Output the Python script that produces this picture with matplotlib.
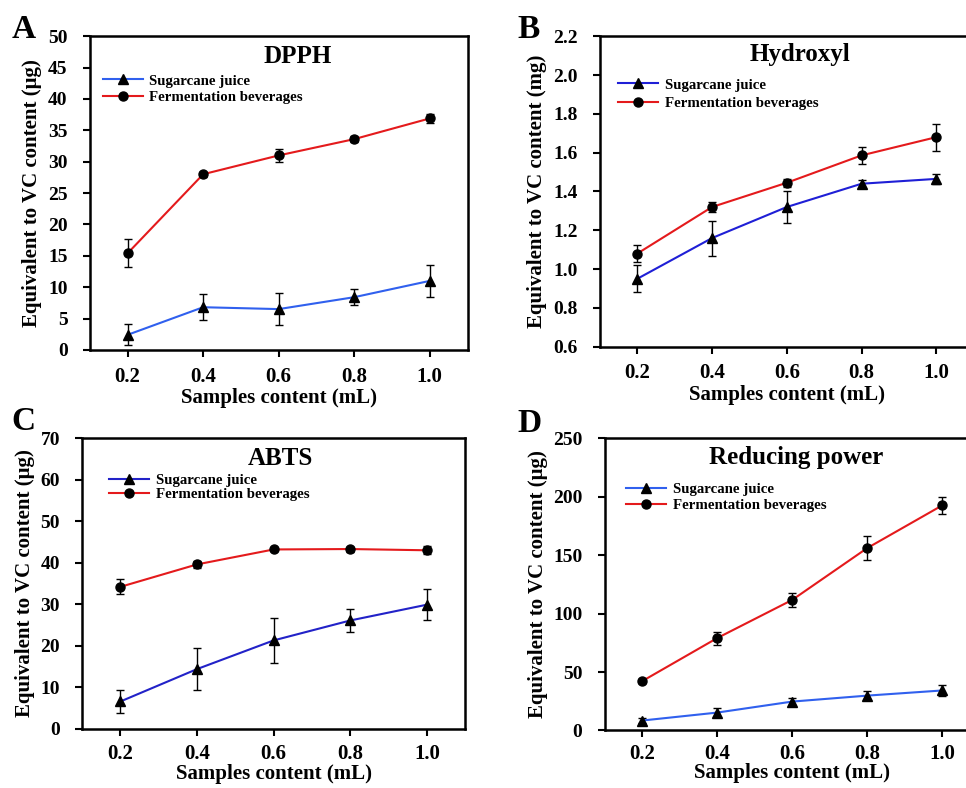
import matplotlib
matplotlib.use("Agg")
import matplotlib.pyplot as plt
from matplotlib.lines import Line2D

plt.rcParams['font.family'] = ['Liberation Serif', 'DejaVu Serif']
plt.rcParams['font.weight'] = 'bold'

x = [0.2, 0.4, 0.6, 0.8, 1.0]
xticklabels = ['0.2', '0.4', '0.6', '0.8', '1.0']

# DPPH
dpph_juice = [2.4, 6.8, 6.5, 8.4, 11.0]
dpph_juice_err = [1.7, 2.1, 2.6, 1.3, 2.5]
dpph_ferm = [15.4, 28.0, 31.0, 33.6, 36.9]
dpph_ferm_err = [2.2, 0.4, 1.1, 0.5, 0.7]

# Hydroxyl
hyd_juice = [0.95, 1.16, 1.32, 1.44, 1.465]
hyd_juice_err = [0.07, 0.09, 0.08, 0.02, 0.025]
hyd_ferm = [1.08, 1.32, 1.445, 1.586, 1.68]
hyd_ferm_err = [0.045, 0.025, 0.02, 0.045, 0.07]

# ABTS
abts_juice = [6.6, 14.4, 21.3, 26.1, 29.9]
abts_juice_err = [2.8, 5.0, 5.5, 2.7, 3.8]
abts_ferm = [34.2, 39.6, 43.2, 43.3, 43.0]
abts_ferm_err = [1.8, 0.9, 0.4, 0.6, 1.0]

# Reducing power
red_juice = [8.5, 15.3, 24.7, 29.8, 34.2]
red_juice_err = [2.0, 4.0, 3.0, 4.0, 4.5]
red_ferm = [42.2, 79.0, 111.6, 155.9, 192.4]
red_ferm_err = [2.0, 5.5, 6.0, 10.0, 7.5]

panels = [
    dict(letter='A', lpos=(12, 30), title='DPPH', unit='(μg)', ylim=(0, 50), step=5, fmt='{:.0f}',
         juice=dpph_juice, jerr=dpph_juice_err, ferm=dpph_ferm, ferr=dpph_ferm_err,
         rect=[0.093, 0.556, 0.391, 0.398], blue='#3060ee', tpos=(0.55, 0.935),
         leg=(0.034, 0.879), lsp=0.2, xpad=7, lpad=1),
    dict(letter='B', lpos=(517, 30), title='Hydroxyl', unit='(mg)', ylim=(0.6, 2.2), step=0.2, fmt='{:.1f}',
         juice=hyd_juice, jerr=hyd_juice_err, ferm=hyd_ferm, ferr=hyd_ferm_err,
         rect=[0.621, 0.560, 0.387, 0.394], blue='#1f1fd6', tpos=(0.535, 0.94),
         leg=(0.048, 0.865), lsp=0.36, xpad=7, lpad=1),
    dict(letter='C', lpos=(11, 421), title='ABTS', unit='(μg)', ylim=(0, 70), step=10, fmt='{:.0f}',
         juice=abts_juice, jerr=abts_juice_err, ferm=abts_ferm, ferr=abts_ferm_err,
         rect=[0.085, 0.075, 0.3965, 0.369], blue='#2222c8', tpos=(0.517, 0.93),
         leg=(0.070, 0.877), lsp=0.02, xpad=6, lpad=0),
    dict(letter='D', lpos=(517, 423), title='Reducing power', unit='(μg)', ylim=(0, 250), step=50, fmt='{:.0f}',
         juice=red_juice, jerr=red_juice_err, ferm=red_ferm, ferr=red_ferm_err,
         rect=[0.626, 0.073, 0.388, 0.371], blue='#3060ee', tpos=(0.512, 0.935),
         leg=(0.056, 0.848), lsp=0.16, xpad=5, lpad=-1),
]

fig = plt.figure(figsize=(9.66, 7.88), dpi=100)

for p in panels:
    ax = fig.add_axes(p['rect'])
    ax.errorbar(x, p['juice'], yerr=p['jerr'], color=p['blue'], lw=1.5,
                marker='^', ms=6.5, mfc='black', mec='black',
                ecolor='black', elinewidth=1, capsize=3, capthick=1)
    ax.errorbar(x, p['ferm'], yerr=p['ferr'], color='#e41a1c', lw=1.5,
                marker='o', ms=6.5, mfc='black', mec='black',
                ecolor='black', elinewidth=1, capsize=3, capthick=1)
    ax.set_xlim(0.1, 1.1)
    ax.set_ylim(*p['ylim'])
    ax.set_xticks(x)
    ax.set_xticklabels(xticklabels)
    lo, hi = p['ylim']
    n = int(round((hi - lo) / p['step']))
    yt = [lo + i * p['step'] for i in range(n + 1)]
    ax.set_yticks(yt)
    ax.set_yticklabels([p['fmt'].format(v) for v in yt])
    ax.tick_params(axis='both', direction='out', length=5, width=1.5,
                   top=False, right=False)
    ax.tick_params(axis='x', pad=p['xpad'], labelsize=15)
    ax.tick_params(axis='y', pad=11, labelsize=14)
    for s in ax.spines.values():
        s.set_linewidth(1.8)
    ax.set_xlabel('Samples content (mL)', fontsize=15, fontweight='bold', labelpad=p['lpad'])
    ax.set_ylabel('Equivalent to VC content ' + p['unit'], fontsize=15,
                  fontweight='bold', labelpad=4)
    ax.text(p['tpos'][0], p['tpos'][1], p['title'], transform=ax.transAxes,
            ha='center', va='center', fontsize=18, fontweight='bold')
    handles = [
        Line2D([], [], color=p['blue'], lw=1.5, marker='^', ms=6.5, mfc='black', mec='black'),
        Line2D([], [], color='#e41a1c', lw=1.5, marker='o', ms=6.5, mfc='black', mec='black'),
    ]
    ax.legend(handles, ['Sugarcane juice', 'Fermentation beverages'],
              loc='upper left', bbox_to_anchor=p['leg'], frameon=False,
              fontsize=10.7, handlelength=2.7, handletextpad=0.45,
              labelspacing=p['lsp'], borderaxespad=0, borderpad=0)
    fig.text(p['lpos'][0] / 966, 1 - p['lpos'][1] / 788, p['letter'],
             ha='left', va='center', fontsize=24, fontweight='bold')

fig.savefig('out.png', dpi=100)
